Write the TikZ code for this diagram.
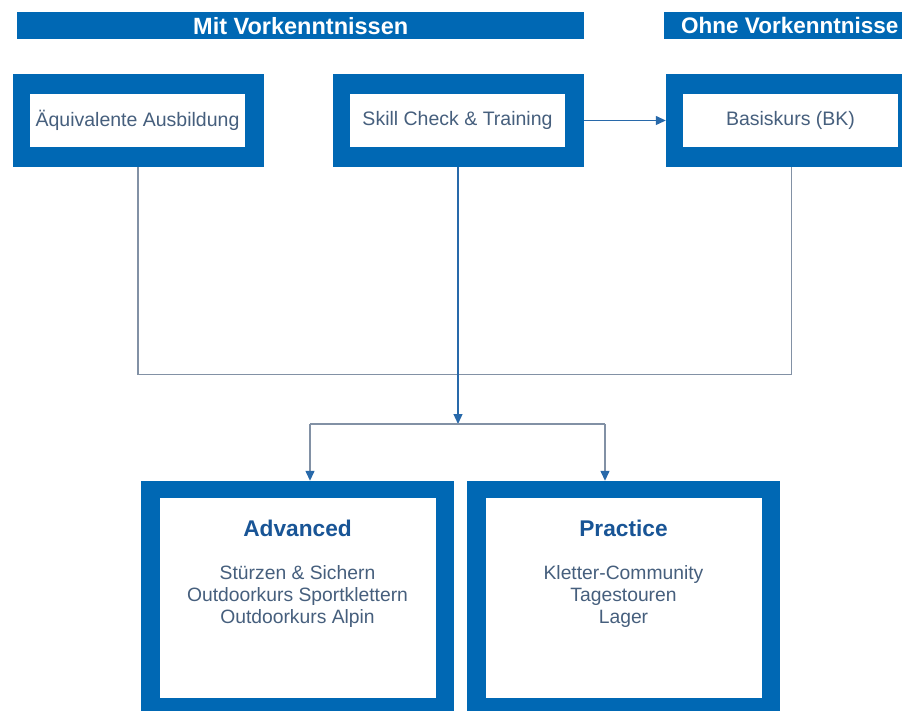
\documentclass[tikz,border=0pt]{standalone}
\usepackage{fontspec}
\setmainfont{Liberation Sans}
\usetikzlibrary{arrows.meta}
\definecolor{kblue}{RGB}{0,104,180}
\definecolor{ktext}{RGB}{70,95,125}
\definecolor{ktitle}{RGB}{25,85,150}
\definecolor{kline}{RGB}{130,145,165}
\definecolor{karrow}{RGB}{40,105,170}
\tikzset{
  headbar/.style={fill=kblue, draw=none, inner sep=0pt, minimum height=27pt},
  headtext/.style={text=white, font=\fontsize{23.5}{27}\selectfont\bfseries, inner sep=0pt},
  outerbox/.style={fill=kblue, draw=none, inner sep=0pt, minimum width=251pt, minimum height=93pt},
  innerbox/.style={fill=white, draw=none, inner sep=0pt, minimum width=215pt, minimum height=53pt, text=ktext, font=\fontsize{19.5}{23}\selectfont},
  bigouter/.style={fill=kblue, draw=none, inner sep=0pt, minimum width=313pt, minimum height=236pt},
  biginner/.style={fill=white, draw=none, inner sep=0pt, minimum width=276pt, minimum height=200pt},
  bigtitle/.style={text=ktitle, font=\fontsize{22.7}{26}\selectfont\bfseries, inner sep=0pt},
  items/.style={text=ktext, align=center, font=\fontsize{19.3}{22}\selectfont, inner sep=0pt},
  conn/.style={draw=kline, line width=1.3pt},
  arr/.style={draw=karrow, line width=1.3pt, -{Triangle[length=10pt,width=9pt]}},
  garr/.style={draw=kline, line width=1.3pt, -{Triangle[length=10pt,width=9pt, fill=karrow, color=karrow]}}
}
\begin{document}
\begin{tikzpicture}[x=1pt,y=-1pt]
\useasboundingbox (0,0) rectangle (902,711);
\clip (0,0) rectangle (902,711);
% header bars
\node[headbar, minimum width=567pt, anchor=north west] (bar1) at (17,12) {};
\node[headtext] (h1) at (bar1.center) {Mit Vorkenntnissen};
\node[headbar, minimum width=260pt, anchor=north west] (bar2) at (664,12) {};
\node[headtext, font=\fontsize{22.5}{27}\selectfont\bfseries, anchor=west] (h2) at (681,25.5) {Ohne Vorkenntnisse};
% top boxes
\node[outerbox] (b1) at (138,120.5) {};
\node[innerbox] (i1) at (137.5,120.5) {Äquivalente Ausbildung};
\node[outerbox] (b2) at (458.5,120.5) {};
\node[innerbox] (i2) at (457.5,120.5) {Skill Check \& Training};
\node[outerbox] (b3) at (791.5,120.5) {};
\node[innerbox] (i3) at (790.5,120.5) {Basiskurs (BK)};
% bottom boxes
\node[bigouter] (adv) at (297.5,599) {};
\node[biginner] (advi) at (297.5,598) {};
\node[bigtitle] (advt) at (297.5,528) {Advanced};
\node[items, anchor=north] (advl) at (297.5,565) {Stürzen \& Sichern\\Outdoorkurs Sportklettern\\Outdoorkurs Alpin};
\node[bigouter] (pra) at (623.5,599) {};
\node[biginner] (prai) at (623.5,598) {};
\node[bigtitle] (prat) at (623.5,528) {Practice};
\node[items, anchor=north] (pral) at (623.5,565) {Kletter-Community\\Tagestouren\\Lager};
% junction coordinates
\coordinate (j1) at (310,424);
\coordinate (j2) at (605,424);
\coordinate (jc) at (458,424);
% connectors
\draw[arr] (b2.east) -- (b3.west);
\draw[conn] (b1.south) -- ++(0,207) -| (b3.south);
\draw[arr] (b2.south -| jc) -- (jc);
\draw[conn] (j1) -- (j2);
\draw[garr] (j1) -- (j1 |- adv.north);
\draw[garr] (j2) -- (j2 |- pra.north);
\end{tikzpicture}
\end{document}
